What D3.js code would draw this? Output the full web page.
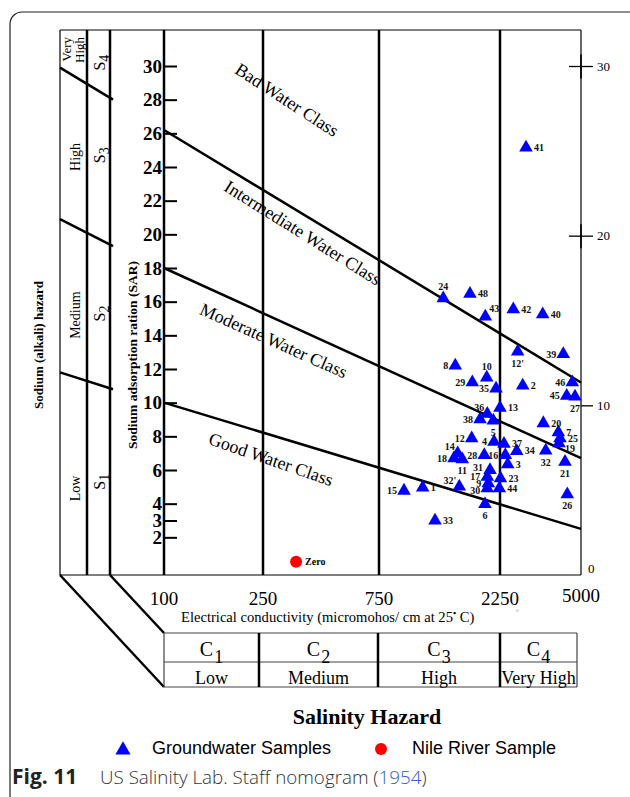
<!DOCTYPE html>
<html><head><meta charset="utf-8">
<script src="https://cdn.jsdelivr.net/npm/d3@7"></script>
<style>body{margin:0;background:#fff}svg{display:block}</style>
</head><body>
<svg id="c" width="630" height="797"></svg>
<script>
// ---------------- data ----------------
const ecTicks = [100, 250, 750, 2250, 5000];
const sarTicks = [30, 28, 26, 24, 22, 20, 18, 16, 14, 12, 10, 8, 6, 4, 3, 2];
const rightTicks = [0, 10, 20, 30];

const sampleIds = ["24","48","43","42","40","12'","39","8","10","29","35","2","46","45","27","13","36","38","5","20","7","25","19","12","4","37","14","18","11","28","16","34","32","21","3","31","17","23","9","32'","30","44","15","1","26","6","33","41"];
const sampleEC  = [1344,1713,1969,2565,3428,2678,4199,1499,1994,1750,2170,2814,4588,4343,4713,2250,2005,1877,2117,3448,3998,4065,4025,1740,2131,2340,1532,1482,1598,1951,2371,2653,3531,4271,2428,2055,2005,2260,2023,1555,2005,2236,941,1115,4368,1963,1247,2907];
const sampleSAR = [16.2,16.46,15.11,15.55,15.25,13.03,12.89,12.2,11.49,11.21,10.83,11.01,11.21,10.4,10.36,9.69,9.33,9.01,8.93,8.78,8.24,7.88,7.59,7.88,7.68,7.55,6.99,6.7,6.64,6.89,6.89,7.13,7.15,6.49,6.34,6.0,5.6,5.51,5.21,5.01,4.91,4.91,4.77,4.95,4.56,3.98,2.99,25.15];
const labelSide = ["t","r","tr","r","r","b","l","l","t","l","l","r","l","l","b","r","tl","l","b","r","r","r","br","l","l","r","tl","l","b","l","l","r","b","b","r","lu","l","r","l","tl","ld","r","l","r","b","b","r","r"];

const nileEC = [342];
const nileSAR = [0.55];
const nileLabel = ["Zero"];

const classNames = ["Bad Water Class", "Intermediate Water Class", "Moderate Water Class", "Good Water Class"];
const classLabelEC = [314, 365, 277, 270];
const classLabelSAR = [28.0, 20.1, 13.7, 6.65];
const classLabelAngle = [33, 32, 24, 19];
const boundaryStartSAR = [26.2, 18, 10];   // at EC = 100
const boundaryEndSAR = [11.2, 6.7, 2.5];   // at EC = 5000

const hazardLevels = ["High", "Medium", "Low"];
const hazardLevelSAR = [24.6, 15.2, 4.9];
const hazardCodes = ["4", "3", "2", "1"];
const hazardCodeSAR = [30.2, 24.7, 15.3, 5.3];
const hazardSplitLeft = [29.9, 20.9, 11.8];
const hazardSplitRight = [28.0, 19.3, 10.8];

const salinityCodes = ["1", "2", "3", "4"];
const salinityLevels = ["Low", "Medium", "High", "Very High"];

// ---------------- setup ----------------
const svg = d3.select("#c");
const serif = "'Liberation Serif','Times New Roman',Times,serif";
const sans = "'Liberation Sans',Arial,sans-serif";
const cap = "'Open Sans','Noto Sans',sans-serif";

const x = d3.scaleLog().domain(ecTicks).range([164, 263, 379, 500, 581]);
const yL = d3.scaleLinear().domain([0, 30]).range([571, 66]);
const yR = d3.scaleLinear().domain([0, 30]).range([575, 66]);

const P = {outer: 60, c1: 87, c2: 110, colEnd: 113, top: 30, bottom: 575,
           tTop: 633, tMid: 662, tBot: 687};
const xL = x(100), xRgt = x(5000);

// figure frame
svg.append("path").attr("d", "M10,797 L10,24 A12,12 0 0 1 22,12 L630,12")
  .attr("fill", "none").attr("stroke", "#222").attr("stroke-width", 1.2);

const g = svg.append("g");
function line(x1, y1, x2, y2, w, c) {
  return g.append("line").attr("x1", x1).attr("y1", y1).attr("x2", x2).attr("y2", y2)
    .attr("stroke", c || "#000").attr("stroke-width", w).attr("stroke-linecap", "butt");
}

// frame of plot
line(P.outer, P.top, xRgt, P.top, 1.2);
line(P.outer, P.bottom, xRgt, P.bottom, 1.2);
line(P.outer, P.top, P.outer, P.bottom, 1.2);
line(xRgt, P.top, xRgt, P.bottom, 1.2);
[P.c1, P.c2].forEach(v => line(v, P.top, v, P.bottom, 2.5));
ecTicks.slice(0, 4).forEach(d => line(x(d), P.top, x(d), P.bottom, 2.5));

// sodium hazard column split lines
hazardSplitLeft.forEach((s, i) => line(P.outer, yL(s), P.colEnd, yL(hazardSplitRight[i]), 2.5));

// class boundary lines
boundaryStartSAR.forEach((s, i) => line(x(100), yL(s), x(5000), yL(boundaryEndSAR[i]), 2.5));

// bottom perspective lines
line(P.outer, P.bottom, xL, P.tBot, 2.5);
line(P.c2, P.bottom, xL, P.tTop, 2.5);

// left axis
const axL = g.append("g").attr("transform", `translate(${xL},0)`)
  .call(d3.axisLeft(yL).tickValues(sarTicks).tickSize(-13).tickPadding(2).tickFormat(d3.format("d")));
axL.select(".domain").remove();
axL.selectAll(".tick line").attr("stroke", "#000").attr("stroke-width", 2);
axL.selectAll(".tick text").attr("font-family", serif).attr("font-weight", "bold")
  .attr("font-size", 19).attr("fill", "#000");

// right axis
const axR = g.append("g").attr("transform", `translate(${xRgt},0)`)
  .call(d3.axisRight(yR).tickValues(rightTicks).tickSize(12).tickPadding(4).tickFormat(d3.format("d")));
axR.select(".domain").remove();
axR.selectAll(".tick line").attr("stroke", "#000").attr("stroke-width", 1.3)
  .attr("display", d => d === 0 ? "none" : null);
axR.selectAll(".tick").filter(d => d >= 20).append("line")
  .attr("x1", -12).attr("x2", 0).attr("stroke", "#000").attr("stroke-width", 1.3);
axR.selectAll(".tick").filter(d => d >= 20).append("line")
  .attr("y1", -12).attr("y2", 12).attr("stroke", "#000").attr("stroke-width", 1.6);
axR.selectAll(".tick text").attr("font-family", serif).attr("font-size", 13).attr("fill", "#000")
  .attr("x", d => d === 0 ? 7 : 16).attr("dy", d => d === 0 ? "-0.2em" : "0.32em");

// EC tick labels
g.selectAll(".ect").data(ecTicks).join("text")
  .attr("x", d => x(d)).attr("y", (d, i) => i === 4 ? 602 : 605)
  .attr("text-anchor", "middle").attr("font-family", serif).attr("font-size", 19)
  .text(d => d);
g.append("text").attr("x", x(2250) + 16).attr("y", 612).attr("font-family", serif)
  .attr("font-size", 5).attr("fill", "#999").text("0");

// x axis title
const xt = g.append("text").attr("x", 181).attr("y", 622).attr("font-family", serif).attr("font-size", 14.6);
xt.append("tspan").text("Electrical conductivity (micromohos/ cm at 25");
xt.append("tspan").attr("dy", -6).attr("font-size", 9).attr("font-weight", "bold").text("•");
xt.append("tspan").attr("dy", 6).text(" C)");

// y axis titles
g.append("text").attr("transform", "translate(137,355) rotate(-90)").attr("text-anchor", "middle")
  .attr("font-family", serif).attr("font-weight", "bold").attr("font-size", 13.5)
  .text("Sodium adsorption ration (SAR)");
g.append("text").attr("transform", "translate(43,345) rotate(-90)").attr("text-anchor", "middle")
  .attr("font-family", serif).attr("font-weight", "bold").attr("font-size", 13)
  .text("Sodium (alkali) hazard");

// hazard level labels
g.append("text").attr("transform", `translate(71,37) rotate(-90)`).attr("text-anchor", "end")
  .attr("font-family", serif).attr("font-size", 13).text("Very");
g.append("text").attr("transform", `translate(84,37) rotate(-90)`).attr("text-anchor", "end")
  .attr("font-family", serif).attr("font-size", 13).text("High");
hazardLevels.forEach((t, i) => {
  g.append("text").attr("transform", `translate(80,${yL(hazardLevelSAR[i])}) rotate(-90)`)
    .attr("text-anchor", "middle").attr("font-family", serif).attr("font-size", 14).text(t);
});
hazardCodes.forEach((c, i) => {
  const t = g.append("text").attr("transform", `translate(105,${yL(hazardCodeSAR[i])}) rotate(-90)`)
    .attr("text-anchor", "middle").attr("font-family", serif).attr("font-size", 16);
  t.append("tspan").text("S");
  t.append("tspan").attr("dy", 4).attr("font-size", 14).text(c);
});

// class labels
classNames.forEach((n, i) => {
  g.append("text")
    .attr("transform", `translate(${x(classLabelEC[i])},${yL(classLabelSAR[i])}) rotate(${classLabelAngle[i]})`)
    .attr("text-anchor", "middle").attr("dy", "0.35em")
    .attr("font-family", serif).attr("font-size", 18).text(n);
});

// salinity table
const tEdges = [x(100), x(250) - 4, x(750) - 1, x(2250), x(5000) - 4];
line(tEdges[0], P.tTop, tEdges[4], P.tTop, 1.2, "#444");
line(tEdges[0], P.tMid, tEdges[4], P.tMid, 1.2, "#444");
line(tEdges[0], P.tBot, tEdges[4], P.tBot, 1.2, "#444");
tEdges.forEach((e, i) => line(e, P.tTop, e, P.tBot, (i === 0 || i === 4) ? 1.2 : 2.5, (i === 0 || i === 4) ? "#444" : "#000"));
salinityCodes.forEach((c, i) => {
  const cx = (tEdges[i] + tEdges[i + 1]) / 2;
  const t = g.append("text").attr("x", cx).attr("y", 656).attr("text-anchor", "middle")
    .attr("font-family", serif).attr("font-size", 20);
  t.append("tspan").text("C");
  t.append("tspan").attr("dy", 7).attr("dx", 1).attr("font-size", 18).text(c);
  g.append("text").attr("x", cx).attr("y", 684).attr("text-anchor", "middle")
    .attr("font-family", serif).attr("font-size", 18).text(salinityLevels[i]);
});

// samples
const tri = d3.symbol(d3.symbolTriangle, 80)();
const pts = sampleIds.map((id, i) => ({id, ec: sampleEC[i], sar: sampleSAR[i], side: labelSide[i]}));
g.selectAll(".pt").data(pts).join("path")
  .attr("d", tri).attr("fill", "#0000ff")
  .attr("transform", d => `translate(${x(d.ec)},${yL(d.sar)})`);
const off = {r: [8, 3.5, "start"], l: [-7, 3.5, "end"], t: [0, -8, "middle"], b: [0, 15, "middle"],
             tr: [4, -5, "start"], tl: [-3, -3, "end"], br: [6, 9, "start"],
             lu: [-7, 0.5, "end"], ld: [-7, 5.5, "end"]};
g.selectAll(".pl").data(pts).join("text")
  .attr("x", d => x(d.ec) + off[d.side][0]).attr("y", d => yL(d.sar) + off[d.side][1])
  .attr("text-anchor", d => off[d.side][2])
  .attr("font-family", serif).attr("font-weight", "bold").attr("font-size", 10).attr("fill", "#111")
  .text(d => d.id);

// Nile river sample
nileEC.forEach((e, i) => {
  g.append("circle").attr("cx", x(e)).attr("cy", yL(nileSAR[i])).attr("r", 6).attr("fill", "#ff0000");
  g.append("text").attr("x", x(e) + 9).attr("y", yL(nileSAR[i]) + 3).attr("font-family", serif)
    .attr("font-weight", "bold").attr("font-size", 10).text(nileLabel[i]);
});

// title & legend
g.append("text").attr("x", 367).attr("y", 724).attr("text-anchor", "middle")
  .attr("font-family", serif).attr("font-weight", "bold").attr("font-size", 22).text("Salinity Hazard");
g.append("path").attr("d", d3.symbol(d3.symbolTriangle, 100)()).attr("fill", "#0000ff")
  .attr("transform", "translate(123,750)");
g.append("text").attr("x", 152).attr("y", 754).attr("font-family", sans).attr("font-size", 18)
  .text("Groundwater Samples");
g.append("circle").attr("cx", 381).attr("cy", 749).attr("r", 6).attr("fill", "#ff0000");
g.append("text").attr("x", 412).attr("y", 754).attr("font-family", sans).attr("font-size", 18)
  .text("Nile River Sample");

// caption
svg.append("text").attr("x", 12).attr("y", 784).attr("font-family", cap).attr("font-size", 21)
  .attr("font-weight", "bold").attr("fill", "#222").text("Fig. 11");
const capT = svg.append("text").attr("x", 100).attr("y", 784).attr("font-family", cap).attr("font-size", 18.8).attr("fill", "#333");
capT.append("tspan").attr("font-weight", 300).text("US Salinity Lab. Staff nomogram (");
capT.append("tspan").attr("font-weight", 300).attr("fill", "#2f5bd3").text("1954");
capT.append("tspan").attr("font-weight", 300).text(")");
</script>
</body></html>
